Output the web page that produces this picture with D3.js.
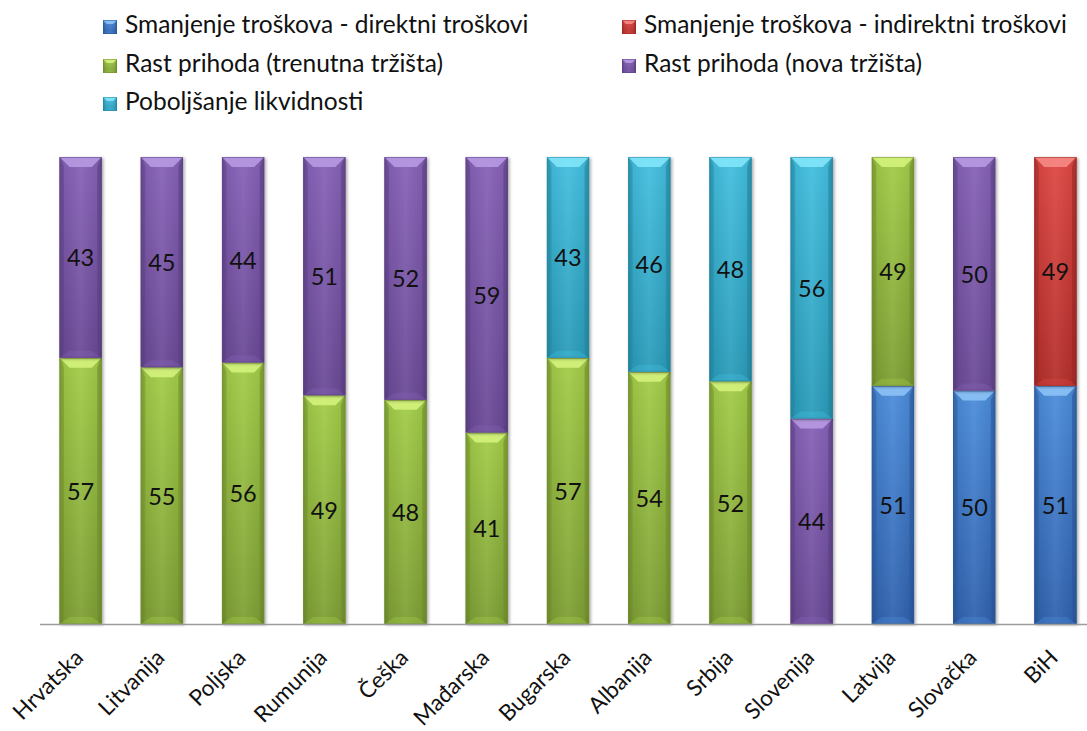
<!DOCTYPE html>
<html>
<head>
<meta charset="utf-8">
<script src="https://cdn.jsdelivr.net/npm/d3@7"></script>
<style>
  html, body { margin: 0; padding: 0; background: #ffffff; }
  svg { display: block; font-family: Lato, "Open Sans", sans-serif; }
</style>
</head>
<body>
<svg id="chart" width="1087" height="731"></svg>
<script>
// Countries along the x axis
const categories = ["Hrvatska", "Litvanija", "Poljska", "Rumunija", "Češka", "Mađarska",
  "Bugarska", "Albanija", "Srbija", "Slovenija", "Latvija", "Slovačka", "BiH"];

// Series names (stack order, bottom to top)
const seriesNames = [
  "Smanjenje troškova - direktni troškovi",
  "Smanjenje troškova - indirektni troškovi",
  "Rast prihoda (trenutna tržišta)",
  "Rast prihoda (nova tržišta)",
  "Poboljšanje likvidnosti"
];

// Shares per country (%)
const direktniTroskovi   = [0, 0, 0, 0, 0, 0, 0, 0, 0, 0, 51, 50, 51];
const indirektniTroskovi = [0, 0, 0, 0, 0, 0, 0, 0, 0, 0, 0, 0, 49];
const trenutnaTrzista    = [57, 55, 56, 49, 48, 41, 57, 54, 52, 0, 49, 0, 0];
const novaTrzista        = [43, 45, 44, 51, 52, 59, 0, 0, 0, 44, 0, 50, 0];
const likvidnost         = [0, 0, 0, 0, 0, 0, 43, 46, 48, 56, 0, 0, 0];

const seriesValues = [direktniTroskovi, indirektniTroskovi, trenutnaTrzista, novaTrzista, likvidnost];

// Bevelled fill palette: top, bottom, highlight edge, side shade
const palette = [
  { top: "#4c8ddb", bottom: "#3062ae", hi: "#8cc2f6", side: "#2d5a9e" },
  { top: "#de4844", bottom: "#b42f2c", hi: "#f58a84", side: "#a22a27" },
  { top: "#a3cd48", bottom: "#7e9f35", hi: "#d3f27c", side: "#73912f" },
  { top: "#8762b8", bottom: "#6a4a96", hi: "#b79ae2", side: "#5e4286" },
  { top: "#43bfdf", bottom: "#2b9cba", hi: "#82e6f9", side: "#2689a4" }
];

const FONT = "Lato, 'Open Sans', sans-serif";

// Table built from the arrays
const keys = seriesNames.map((_, i) => "s" + i);
const table = categories.map((c, j) => {
  const row = { category: c };
  keys.forEach((k, i) => { row[k] = seriesValues[i][j]; });
  return row;
});

const svg = d3.select("#chart");
const defs = svg.append("defs");

palette.forEach((p, i) => {
  const g = defs.append("linearGradient").attr("id", "vg" + i)
    .attr("x1", 0).attr("y1", 0).attr("x2", 0).attr("y2", 1);
  g.append("stop").attr("offset", "0%").attr("stop-color", p.top);
  g.append("stop").attr("offset", "100%").attr("stop-color", p.bottom);
});

// Horizontal shading across a bar: darker edges, brighter middle
const hg = defs.append("linearGradient").attr("id", "hshade")
  .attr("x1", 0).attr("y1", 0).attr("x2", 1).attr("y2", 0);
hg.append("stop").attr("offset", "0%").attr("stop-color", "#000").attr("stop-opacity", 0.22);
hg.append("stop").attr("offset", "12%").attr("stop-color", "#000").attr("stop-opacity", 0.05);
hg.append("stop").attr("offset", "50%").attr("stop-color", "#fff").attr("stop-opacity", 0.06);
hg.append("stop").attr("offset", "88%").attr("stop-color", "#000").attr("stop-opacity", 0.05);
hg.append("stop").attr("offset", "100%").attr("stop-color", "#000").attr("stop-opacity", 0.25);

const shadow = defs.append("filter").attr("id", "shadow")
  .attr("x", "-20%").attr("y", "-5%").attr("width", "150%").attr("height", "115%");
shadow.append("feDropShadow").attr("dx", 1.5).attr("dy", 1).attr("stdDeviation", 1.6)
  .attr("flood-color", "#000").attr("flood-opacity", 0.35);

const x = d3.scaleBand().domain(categories).range([40, 1096])
  .paddingInner(0.48).paddingOuter(0.24);
const y = d3.scaleLinear().domain([0, 100]).range([624, 157]);

const stacked = d3.stack().keys(keys)(table);

// Draws one bevelled block
function bevelBlock(g, x0, y0, w, h, si, bevel) {
  const p = palette[si];
  const b = Math.min(bevel, h / 2, w / 2);
  g.append("rect").attr("x", x0).attr("y", y0).attr("width", w).attr("height", h)
    .attr("fill", `url(#vg${si})`);
  g.append("rect").attr("x", x0).attr("y", y0).attr("width", w).attr("height", h)
    .attr("fill", "url(#hshade)");
  // top bevel facet
  g.append("polygon")
    .attr("points", [[x0, y0], [x0 + w, y0], [x0 + w - b, y0 + b], [x0 + b, y0 + b]].join(" "))
    .attr("fill", p.hi).attr("opacity", 0.9);
  // side facets
  g.append("polygon")
    .attr("points", [[x0, y0], [x0 + b * 0.45, y0 + b], [x0 + b * 0.45, y0 + h - b], [x0, y0 + h]].join(" "))
    .attr("fill", p.side).attr("opacity", 0.45);
  g.append("polygon")
    .attr("points", [[x0 + w, y0], [x0 + w - b * 0.45, y0 + b], [x0 + w - b * 0.45, y0 + h - b], [x0 + w, y0 + h]].join(" "))
    .attr("fill", p.side).attr("opacity", 0.6);
  // bottom facet
  g.append("polygon")
    .attr("points", [[x0, y0 + h], [x0 + w, y0 + h], [x0 + w - b, y0 + h - b * 0.7], [x0 + b, y0 + h - b * 0.7]].join(" "))
    .attr("fill", p.top).attr("opacity", 0.35);
  g.append("rect").attr("x", x0 + 0.5).attr("y", y0 + 0.5).attr("width", w - 1).attr("height", h - 1)
    .attr("fill", "none").attr("stroke", p.side).attr("stroke-opacity", 0.55).attr("stroke-width", 1);
}

// Bars
const barsLayer = svg.append("g");
stacked.forEach((layer, si) => {
  layer.forEach((d, j) => {
    const v = d[1] - d[0];
    if (v <= 0) return;
    const cat = categories[j];
    const g = barsLayer.append("g").attr("filter", "url(#shadow)");
    bevelBlock(g, x(cat), y(d[1]), x.bandwidth(), y(d[0]) - y(d[1]), si, 10);
  });
});

// Value labels
const labelLayer = svg.append("g");
stacked.forEach((layer) => {
  layer.forEach((d, j) => {
    const v = d[1] - d[0];
    if (v <= 0) return;
    labelLayer.append("text")
      .attr("x", x(categories[j]) + x.bandwidth() / 2)
      .attr("y", (y(d[0]) + y(d[1])) / 2)
      .attr("text-anchor", "middle").attr("dominant-baseline", "central")
      .attr("font-family", FONT).attr("font-size", 23.5).attr("fill", "#111")
      .text(v);
  });
});

// Category axis line
svg.append("line").attr("x1", 40).attr("x2", 1087).attr("y1", 624.5).attr("y2", 624.5)
  .attr("stroke", "#9c9c9c").attr("stroke-width", 1.5);

// Rotated category labels
const catLabels = svg.append("g");
categories.forEach(c => {
  const cx = x(c) + x.bandwidth() / 2 + 4;
  const cy = 659;
  catLabels.append("g").attr("transform", `translate(${cx},${cy})`)
    .append("text")
    .attr("transform", "rotate(-45)")
    .attr("text-anchor", "end")
    .attr("font-family", FONT).attr("font-size", 22.5).attr("fill", "#111")
    .text(c);
});

// Legend
const legendItems = [
  { si: 0, x: 103, y: 33 }, { si: 1, x: 622, y: 33 },
  { si: 2, x: 103, y: 72 }, { si: 3, x: 622, y: 72 },
  { si: 4, x: 103, y: 110 }
];
const legend = svg.append("g");
legendItems.forEach(it => {
  const g = legend.append("g");
  bevelBlock(g, it.x, it.y - 13, 14, 14, it.si, 4);
  legend.append("text").attr("x", it.x + 22).attr("y", it.y)
    .attr("font-family", FONT).attr("font-size", 24.5).attr("fill", "#111")
    .text(seriesNames[it.si]);
});
</script>
</body>
</html>
